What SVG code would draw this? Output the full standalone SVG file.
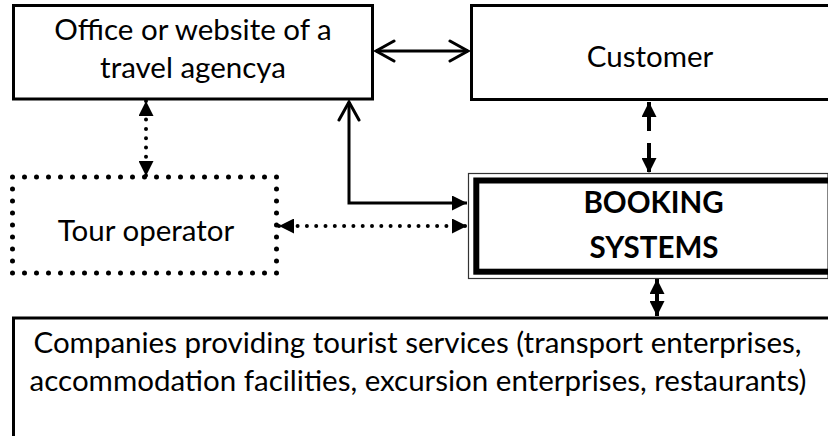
<svg xmlns="http://www.w3.org/2000/svg" width="828" height="436" viewBox="0 0 828 436">
  <style>
    .box { fill: #ffffff; stroke: #000000; stroke-width: 3; }
    .t { font-family: Lato, "Liberation Sans", sans-serif; font-size: 29.5px; fill: #000000; text-anchor: middle; }
    .b { font-weight: bold; }
    .solid { fill: none; stroke: #000000; stroke-width: 3; }
    .dot { fill: none; stroke: #000000; stroke-width: 4; stroke-linecap: round; stroke-dasharray: 0 9.3; }
    .dash { fill: none; stroke: #000000; stroke-width: 4; stroke-dasharray: 29 12; }
  </style>
  <defs>
    <marker id="tri" markerUnits="userSpaceOnUse" viewBox="0 0 15 15" markerWidth="15" markerHeight="15" refX="15" refY="7.5" orient="auto-start-reverse">
      <path d="M0,0 L15,7.5 L0,15 Z" fill="#000000" stroke="none"/>
    </marker>
    <marker id="chev" markerUnits="userSpaceOnUse" viewBox="0 0 24 24" markerWidth="24" markerHeight="24" refX="21" refY="12" orient="auto-start-reverse">
      <path d="M3,2 L21,12 L3,22" fill="none" stroke="#000000" stroke-width="3" stroke-linecap="round" stroke-linejoin="miter"/>
    </marker>
  </defs>

  <rect x="0" y="0" width="828" height="436" fill="#ffffff"/>

  <g id="office">
    <rect class="box" x="13.5" y="5.5" width="359" height="93.5"/>
    <text class="t" x="193" y="40">Office or website of a</text>
    <text class="t" x="193" y="78">travel agencya</text>
  </g>

  <g id="customer">
    <rect class="box" x="471.5" y="5.5" width="400" height="94"/>
    <text class="t" x="650" y="67">Customer</text>
  </g>

  <g id="tour-operator">
    <rect x="12.5" y="177" width="264" height="96" fill="#ffffff" stroke="#000000" stroke-width="5" stroke-linecap="round" stroke-dasharray="0 12"/>
    <text class="t" x="146" y="241">Tour operator</text>
  </g>

  <g id="booking-systems">
    <rect x="468.5" y="173.5" width="359.5" height="105" fill="#ffffff" stroke="#333333" stroke-width="1.2"/>
    <rect x="476.3" y="180.5" width="400" height="91.2" fill="none" stroke="#000000" stroke-width="6"/>
    <text class="t b" x="653.5" y="213">BOOKING</text>
    <text class="t b" x="654" y="258">SYSTEMS</text>
  </g>

  <g id="companies">
    <rect class="box" x="13.5" y="318" width="816" height="200"/>
    <text class="t" x="417.5" y="353">Companies providing tourist services (transport enterprises,</text>
    <text class="t" x="418" y="391">accommodation facilities, excursion enterprises, restaurants)</text>
  </g>

  <g id="connectors">
    <line class="solid" x1="376" y1="51" x2="468" y2="51" marker-start="url(#chev)" marker-end="url(#chev)"/>
    <path class="solid" d="M349,102 L349,203 L467,203" marker-start="url(#chev)" marker-end="url(#tri)"/>
    <line class="dot" x1="146" y1="101" x2="146" y2="176" marker-start="url(#tri)" marker-end="url(#tri)"/>
    <line class="dot" x1="279" y1="226" x2="467" y2="226" marker-start="url(#tri)" marker-end="url(#tri)"/>
    <line class="dash" x1="649" y1="102" x2="649" y2="173" marker-start="url(#tri)" marker-end="url(#tri)"/>
    <line x1="657" y1="279" x2="657" y2="316" stroke="#000000" stroke-width="4" marker-start="url(#tri)" marker-end="url(#tri)"/>
  </g>
</svg>
